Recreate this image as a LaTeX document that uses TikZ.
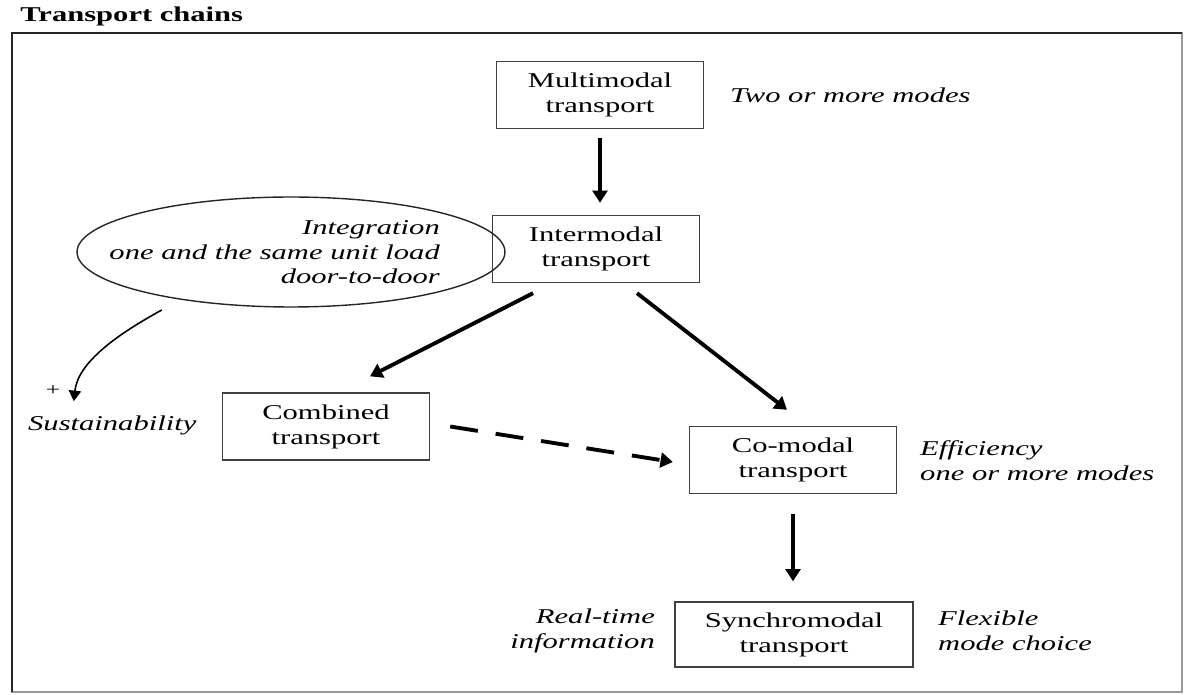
\documentclass[tikz,border=0pt]{standalone}
\usepackage{fontspec}
\setmainfont{Liberation Serif}[FakeStretch=1.45]
\usetikzlibrary{positioning,shapes.geometric,arrows.meta}

\begin{document}
\begin{tikzpicture}[x=0.02cm, y=-0.02cm,
    >={Triangle[length=7pt,width=8.5pt]},
    box/.style={
      draw=black!75, line width=0.8pt, minimum width=4.14cm, minimum height=1.34cm,
      align=center, font=\fontsize{12}{14.2}\selectfont
    },
    note/.style={font=\fontsize{12}{14}\selectfont\itshape, align=left},
    flow/.style={->, line width=2.2pt}
  ]
  \useasboundingbox (0,0) rectangle (1193,695);

  % ===== Title and frame =====
  \node[anchor=base west, inner sep=0pt, font=\fontsize{12}{14}\selectfont\bfseries]
    (title) at (20,22) {Transport chains};
  \draw[black!40, line width=0.8pt] (12,33) rectangle (1182,692);
  \draw[black!85, line width=1.4pt] (12,692) -- (12,33) -- (1182,33);

  % ===== Transport chain boxes =====
  \node[box] (multi) at (600,95) {Multimodal\\transport};
  \node[box] (inter) at (596,249) {Intermodal\\transport};
  \node[box] (comb) at (326,426.5) {Combined\\transport};
  \node[box] (comod) at (793,460) {Co-modal\\transport};
  \node[box, minimum width=4.76cm, minimum height=1.3cm] (sync) at (794,634.5)
    {Synchromodal\\transport};

  % Integration ellipse
  \node[ellipse, draw=black!85, line width=0.8pt, minimum width=8.56cm, minimum height=2.2cm]
    (integ) at (291,252) {};
  \node[note, align=right, anchor=east] (integtxt) at (446,252.5)
    {Integration\\one and the same unit load\\door-to-door};

  % ===== Side notes =====
  \node[note, anchor=west] (twomore) at (724,95) {Two or more modes};
  \node[note, anchor=west] (effic) at (914,460.5) {Efficiency\\one or more modes};
  \node[note, align=right, anchor=east] (realtime) at (661,631) {Real-time\\information};
  \node[note, anchor=west] (flex) at (932,631) {Flexible\\mode choice};
  \node[note, anchor=west] (sustain) at (22,425) {Sustainability};
  \node[font=\fontsize{10}{12}\selectfont] (plus) at (53,391) {+};

  % ===== Connectors =====
  \draw[flow, shorten <=0.18cm, shorten >=0.24cm] (multi.south) -- (multi.south |- inter.north);
  \draw[flow] ([xshift=-1.26cm,yshift=-0.2cm]inter.south) -- ([xshift=0.88cm,yshift=0.32cm]comb.north);
  \draw[flow] ([xshift=0.82cm,yshift=-0.2cm]inter.south) -- ([xshift=-0.12cm,yshift=0.32cm]comod.north);
  \draw[flow, dash pattern=on 0.56cm off 0.36cm]
    ([xshift=0.4cm]comb.east) -- ([xshift=-0.32cm,yshift=-0.04cm]comod.west);
  \draw[flow, shorten <=0.4cm, shorten >=0.4cm] (comod.south) -- (comod.south |- sync.north);

  % Curved arrow down to sustainability
  \draw[->, line width=0.9pt, >={Triangle[length=6pt,width=7pt]}]
    ([yshift=-0.27cm]integ.199) .. controls (118,334) and (78,362) .. ([xshift=-0.77cm,yshift=0.16cm]sustain.north);

\end{tikzpicture}
\end{document}
